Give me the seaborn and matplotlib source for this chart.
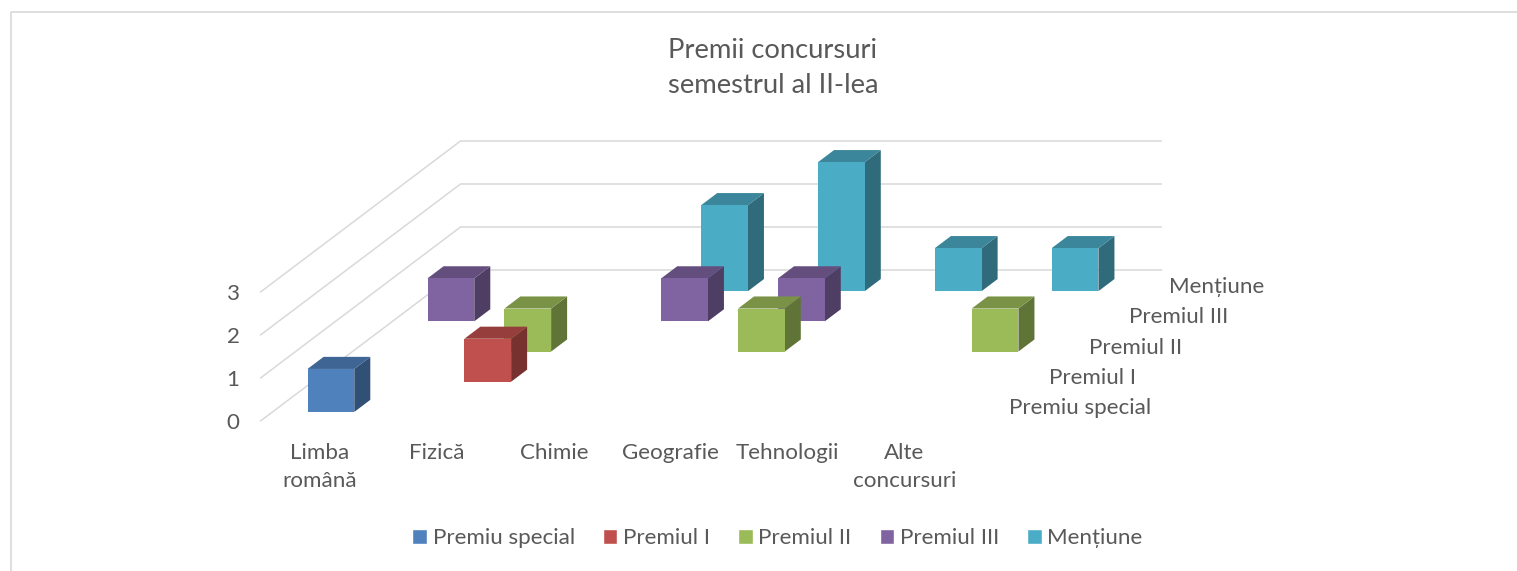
import pandas as pd
import numpy as np
import matplotlib
matplotlib.use("Agg")
import matplotlib.pyplot as plt
import seaborn as sns
from matplotlib.lines import Line2D
from matplotlib.patches import Polygon
from matplotlib.transforms import Affine2D, ScaledTranslation

categories = ["Limba\nromână", "Fizică", "Chimie", "Geografie", "Tehnologii", "Alte\nconcursuri"]
series_names = ["Premiu special", "Premiul I", "Premiul II", "Premiul III", "Mențiune"]

premiu_special = [1, None, None, None, None, None]
premiul_1 = [None, 1, None, None, None, None]
premiul_2 = [None, 1, None, 1, None, 1]
premiul_3 = [1, None, 1, 1, None, None]
mentiune = [None, None, 2, 3, 1, 1]

colors = ["#4f81bd", "#c0504d", "#9bbb59", "#8064a2", "#4bacc6"]
text_color = "#595959"
grid_color = "#d9d9d9"

W, H = 1517, 571
LEFT, RIGHT, Y0, Y3 = 260.5, 961.5, 421, 292
DEPTH_X, DEPTH_Y = 40, 30.2  # pixels per series row
BAR = 0.4

df = pd.DataFrame({"category": categories, "Premiu special": premiu_special, "Premiul I": premiul_1,
                   "Premiul II": premiul_2, "Premiul III": premiul_3, "Mențiune": mentiune})
df = df.melt(id_vars="category", var_name="series", value_name="value").dropna()

sns.set_theme(style="white")
plt.rcParams["font.family"] = ["Lato", "DejaVu Sans"]

fig = plt.figure(figsize=(W / 100, H / 100), dpi=100)
ax = fig.add_axes([LEFT / W, 1 - Y0 / H, (RIGHT - LEFT) / W, (Y0 - Y3) / H])

# front faces, the depth shift is put on afterwards
sns.barplot(data=df, x="category", y="value", hue="series", order=categories, hue_order=series_names,
            palette=colors, dodge=False, width=BAR, saturation=1, ax=ax)
ax.set_xlim(-0.5, 5.5)
ax.set_ylim(0, 3)

# one series row in data units
step_x = DEPTH_X / ((RIGHT - LEFT) / 6)
step_y = DEPTH_Y / ((Y0 - Y3) / 3)


def project(x, depth, v):
    return x + depth * step_x, v + depth * step_y


def darker(color, f):
    return tuple(np.array(matplotlib.colors.to_rgb(color)) * f)


# walls
for v in range(4):
    xs, ys = zip(project(-0.5, 0, v), project(-0.5, 5, v), project(5.5, 5, v))
    ax.plot(xs, ys, color=grid_color, lw=1.1, clip_on=False, zorder=1)

for d, name in enumerate(series_names):
    z = 10 + (4 - d)
    start = d + (1 - BAR) / 2
    shift = Affine2D().translate(start * step_x, start * step_y) + ax.transData
    for bar in ax.containers[d]:
        bar.set_transform(shift)
        bar.set_clip_on(False)
        bar.set_zorder(z + 0.5)
        bar.set_linewidth(0)
    for _, row in df[df["series"] == name].iterrows():
        c = categories.index(row["category"])
        x0, x1 = c - BAR / 2, c + BAR / 2
        back = start + BAR
        side = [project(x1, start, 0), project(x1, back, 0),
                project(x1, back, row["value"]), project(x1, start, row["value"])]
        top = [project(x0, start, row["value"]), project(x1, start, row["value"]),
               project(x1, back, row["value"]), project(x0, back, row["value"])]
        ax.add_patch(Polygon(side, color=darker(colors[d], 0.62), lw=0, clip_on=False, zorder=z))
        ax.add_patch(Polygon(top, color=darker(colors[d], 0.78), lw=0, clip_on=False, zorder=z))
    # series names along the depth axis
    ax.annotate(name, project(5.5, d, 0), xytext=(34.5, 9.4), textcoords="offset points",
                ha="left", va="center", color=text_color, fontsize=16.1, annotation_clip=False)

ax.set_xlabel("")
ax.set_ylabel("")
ax.set_yticks([0, 1, 2, 3])
ax.tick_params(axis="x", length=0, pad=15.5, labelsize=16.1, labelcolor=text_color)
ax.tick_params(axis="y", length=0, pad=15, labelsize=16.1, labelcolor=text_color)
for t in ax.get_xticklabels():
    t.set_linespacing(1.52)
    t.set_transform(t.get_transform() + ScaledTranslation(1.2 / 100, 0, fig.dpi_scale_trans))
sns.despine(ax=ax, left=True, bottom=True)

sns.move_legend(ax, "center", bbox_to_anchor=(777.5 / W, 1 - 538.5 / H), bbox_transform=fig.transFigure,
                ncol=5, frameon=False, title=None, fontsize=16.1, handlelength=0.65, handleheight=0.65,
                handletextpad=0.25, columnspacing=1.26, labelcolor=text_color)

fig.text(773 / W, 1 - 68 / H, "Premii concursuri\nsemestrul al II-lea", ha="center", va="center",
         fontsize=19.7, color=text_color, linespacing=1.5)

# chart frame, only top and left are in the crop
fig.add_artist(Line2D([11 / W, 11 / W, 1], [0, 1 - 11.5 / H, 1 - 11.5 / H], color=grid_color, lw=1.2))

fig.savefig("out.png", dpi=100)
